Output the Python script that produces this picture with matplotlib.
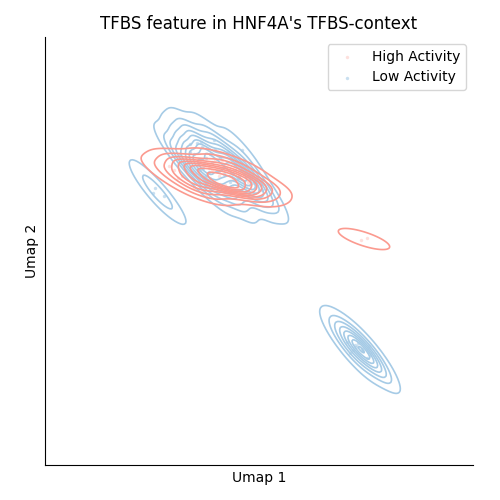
import matplotlib
matplotlib.use('Agg')
import matplotlib.pyplot as plt
import seaborn as sns

high_x = [19.7, 21.8, 22.5, 20.9, 24.6, 24.6, 23.8, 22.5, 19.0, 20.0, 21.0, 22.0, 23.0, 24.0, 25.0,
          18.5, 19.5, 20.5, 21.5, 22.5, 23.5, 24.5, 25.5, 19.2, 20.2, 21.2, 22.2, 23.2, 24.2,
          18.2, 18.9, 20.7, 21.9, 23.3, 24.8, 25.9, 26.2, 19.9, 22.8, 25.2, 21.4, 23.9,
          17.4, 17.8, 18.0, 16.9, 19.4, 20.6, 36.1, 36.7]
high_y = [31.6, 33.0, 32.9, 33.2, 32.3, 31.3, 31.1, 31.5, 33.4, 33.8, 32.2, 31.6, 32.8, 30.9, 31.5,
          33.4, 32.6, 31.3, 34.0, 30.9, 33.6, 30.6, 32.0, 32.2, 31.0, 33.0, 34.0, 31.4, 33.0,
          32.4, 33.8, 32.6, 32.4, 32.0, 31.8, 31.0, 31.6, 33.0, 31.2, 30.9, 31.8, 32.2,
          33.0, 32.2, 33.8, 33.4, 31.2, 30.4, 26.0, 26.2]

low_x = [19.7, 20.2, 21.5, 22.8, 24.2, 19.8, 20.3, 20.0, 20.5, 25.2, 25.8, 21.2, 22.4, 23.2, 23.8,
         21.8, 20.8, 22.9, 24.6, 19.4, 21.4, 22.2, 23.0, 24.8, 18.8, 20.6, 26.2,
         21.0, 22.0, 23.5, 24.0, 25.0, 19.0, 20.9, 22.6, 24.4, 25.5, 21.7, 23.3, 20.1,
         18.4, 18.0, 19.0, 19.2, 20.4, 23.9,
         16.4, 15.5, 15.3,
         34.7, 35.5, 35.3, 35.8, 35.0, 36.8, 37.0, 36.7, 36.9, 36.3, 35.6, 36.2]
low_y = [35.7, 35.3, 35.0, 34.8, 35.0, 33.5, 33.2, 33.0, 32.3, 31.7, 32.0, 33.8, 32.6, 34.0, 32.2,
         31.6, 31.4, 30.9, 33.4, 34.6, 36.0, 33.2, 31.8, 30.8, 33.8, 34.2, 31.0,
         34.6, 34.2, 33.0, 33.0, 32.4, 34.8, 32.8, 31.2, 31.9, 31.2, 32.9, 32.6, 35.8,
         33.8, 34.6, 35.6, 32.8, 33.6, 32.4,
         30.4, 31.2, 30.7,
         15.8, 15.5, 15.0, 15.7, 14.7, 14.8, 14.5, 14.2, 15.4, 14.9, 15.3, 15.1]

high_color = '#fb9a8f'
low_color = '#a6cbe6'

fig, ax = plt.subplots(figsize=(5, 5), dpi=100)
plt.subplots_adjust(left=0.09, right=0.946, bottom=0.07, top=0.926)

ax.scatter(high_x, high_y, s=6, color=high_color, alpha=0.3, linewidths=0, label='High Activity')
ax.scatter(low_x, low_y, s=6, color=low_color, alpha=0.6, linewidths=0, label='Low Activity')

sns.kdeplot(x=low_x, y=low_y, ax=ax, color=low_color, linewidths=1.2, bw_adjust=0.5)
sns.kdeplot(x=high_x, y=high_y, ax=ax, color=high_color, linewidths=1.2, bw_adjust=0.95)

ax.set_xlim(4.5, 47.3)
ax.set_ylim(3.5, 46.3)
ax.set_xticks([])
ax.set_yticks([])
ax.set_xlabel('Umap 1')
ax.set_ylabel('Umap 2')
ax.set_title("TFBS feature in HNF4A's TFBS-context")
ax.spines['top'].set_visible(False)
ax.spines['right'].set_visible(False)
ax.legend(loc='upper right')

plt.savefig('out.png', dpi=100)
